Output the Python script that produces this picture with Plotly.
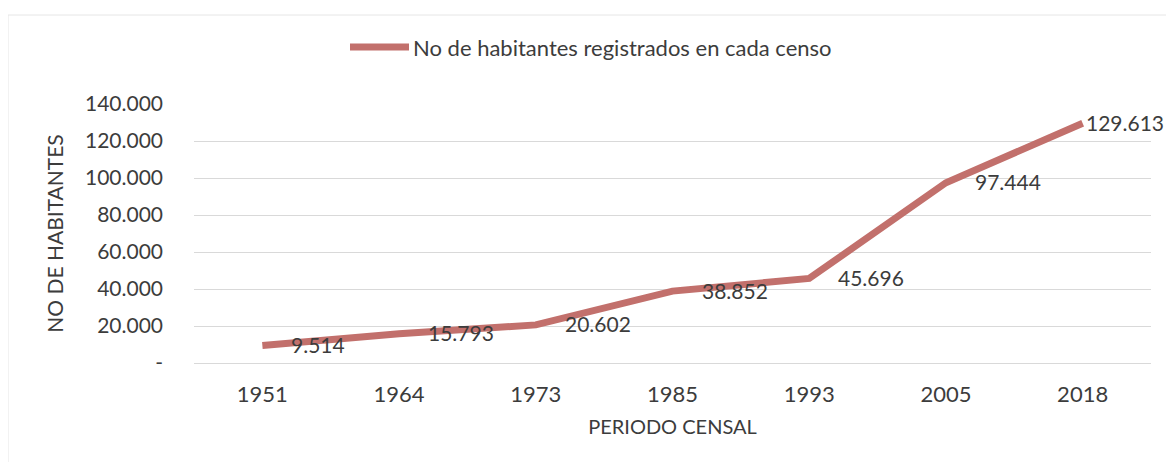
import plotly.graph_objects as go

years = ["1951", "1964", "1973", "1985", "1993", "2005", "2018"]
habitantes = [9514, 15793, 20602, 38852, 45696, 97444, 129613]
labels = ["9.514", "15.793", "20.602", "38.852", "45.696", "97.444", "129.613"]
ytick_vals = [0, 20000, 40000, 60000, 80000, 100000, 120000, 140000]
ytick_text = ["-", "20.000", "40.000", "60.000", "80.000", "100.000", "120.000", "140.000"]
series_name = "No de habitantes registrados en cada censo"

FONT = "Lato"
TXT = "#3c3c3c"
LINE = "#c2706c"

# page has an 8px body margin; figure sized so it fits the 1174x470 window
W, H = 1166, 454
L, R, T, B = 186, 23, 96, 99
PW, PH = W - L - R, H - T - B

fig = go.Figure()
fig.add_trace(go.Scatter(
    x=years, y=habitantes, mode="lines", name=series_name,
    line=dict(color=LINE, width=7), showlegend=False,
))

n = len(years)
for i, (v, lab) in enumerate(zip(habitantes, labels)):
    fig.add_annotation(x=i, y=v, xref="x", yref="y", text=lab, showarrow=False,
                       xanchor="left", yanchor="middle",
                       xshift=1 if i == n - 1 else 27, yshift=1,
                       font=dict(family=FONT, size=21, color=TXT))

# legend (drawn manually to match the long, thick line sample)
def px(xp):
    return (xp - L) / PW

def py(yp):
    return (H - B - yp) / PH

leg_y = py(47 - 8)
fig.add_shape(type="line", xref="paper", yref="paper",
              x0=px(350 - 8), x1=px(409 - 8), y0=leg_y, y1=leg_y,
              line=dict(color=LINE, width=7))
fig.add_annotation(xref="paper", yref="paper", x=px(411 - 8), y=leg_y,
                   text=series_name, showarrow=False, xanchor="left", yanchor="middle",
                   font=dict(family=FONT, size=22, color=TXT))

fig.update_layout(
    width=W, height=H,
    paper_bgcolor="white", plot_bgcolor="white",
    margin=dict(l=L, r=R, t=T, b=B, autoexpand=False),
    font=dict(family=FONT, size=20, color=TXT),
    showlegend=False,
    xaxis=dict(
        type="category", range=[-0.5, n - 0.5], autorange=False,
        showgrid=False, showline=False, zeroline=False,
        ticks="", ticklabelstandoff=16,
        tickfont=dict(family=FONT, size=22, color=TXT),
        title=dict(text="PERIODO CENSAL", font=dict(family=FONT, size=20, color=TXT), standoff=13),
    ),
    yaxis=dict(
        range=[0, 140000], autorange=False, tickvals=ytick_vals, ticktext=ytick_text,
        showgrid=True, gridcolor="#d9d9d9", gridwidth=1,
        zeroline=True, zerolinecolor="#d9d9d9", zerolinewidth=1,
        showline=False, ticks="", ticklabelstandoff=30,
        tickfont=dict(family=FONT, size=21, color=TXT),
        title=dict(text="NO DE HABITANTES", font=dict(family=FONT, size=21, color=TXT), standoff=15),
    ),
)

# faint frame of the chart area (left and top edges)
fig.add_shape(type="line", xref="paper", yref="paper",
              x0=px(0), x1=px(0), y0=py(H), y1=py(7),
              line=dict(color="#e6e6e6", width=1))
fig.add_shape(type="line", xref="paper", yref="paper",
              x0=px(0), x1=px(W), y0=py(7), y1=py(7),
              line=dict(color="#e6e6e6", width=1))

fig.write_html("out.html")
